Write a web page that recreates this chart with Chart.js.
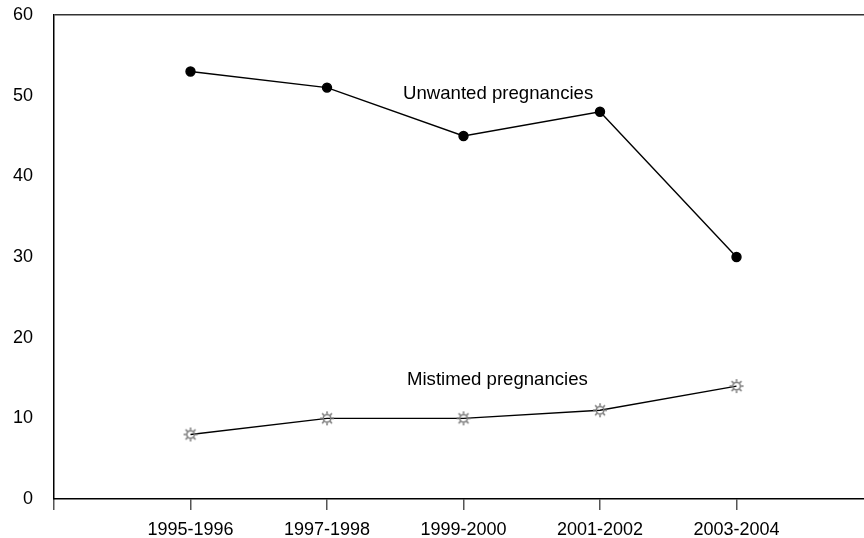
<!DOCTYPE html>
<html>
<head>
<meta charset="utf-8">
<script src="https://cdn.jsdelivr.net/npm/chart.js@4/dist/chart.umd.min.js"></script>
<style>
    html, body { margin: 0; padding: 0; background: #fff; }
    #wrap { width: 864px; height: 538px; }
</style>
</head>
<body>
<div id="wrap"><canvas id="chart" width="864" height="538"></canvas></div>
<script>
// Dados do gráfico
const categories = ['1995-1996', '1997-1998', '1999-2000', '2001-2002', '2003-2004'];
const unwanted = [53, 51, 45, 48, 30];
const mistimed = [8, 10, 10, 11, 14];
const yTicks = [0, 10, 20, 30, 40, 50, 60];

const FONT = '"Liberation Sans", Arial, sans-serif';

// Marcador em forma de sol (cinza)
function makeSunMarker() {
    const c = document.createElement('canvas');
    c.width = 16; c.height = 16;
    const g = c.getContext('2d');
    g.strokeStyle = '#7a7a7a';
    g.lineWidth = 1.5;
    g.beginPath();
    g.arc(8, 8, 3.8, 0, Math.PI * 2);
    g.stroke();
    for (let i = 0; i < 8; i++) {
        const a = i * Math.PI / 4;
        g.beginPath();
        g.moveTo(8 + Math.cos(a) * 4.4, 8 + Math.sin(a) * 4.4);
        g.lineTo(8 + Math.cos(a) * 7, 8 + Math.sin(a) * 7);
        g.stroke();
    }
    return c;
}

// Rótulos das séries dentro do gráfico
const seriesLabels = {
    id: 'seriesLabels',
    afterDatasetsDraw(chart) {
        const { ctx, scales } = chart;
        ctx.save();
        ctx.font = '18.6px ' + FONT;
        ctx.fillStyle = '#000';
        ctx.textBaseline = 'middle';
        ctx.fillText('Unwanted pregnancies', scales.x.getPixelForValue(2.557), scales.y.getPixelForValue(50.2));
        ctx.fillText('Mistimed pregnancies', scales.x.getPixelForValue(2.586), scales.y.getPixelForValue(14.75));
        ctx.restore();
    }
};

new Chart(document.getElementById('chart'), {
    type: 'line',
    data: {
        datasets: [
            {
                label: 'Unwanted pregnancies',
                data: unwanted.map((v, i) => ({ x: i + 1, y: v })),
                borderColor: '#000',
                borderWidth: 1.4,
                pointBackgroundColor: '#000',
                pointBorderColor: '#000',
                pointRadius: 4.5,
                tension: 0
            },
            {
                label: 'Mistimed pregnancies',
                data: mistimed.map((v, i) => ({ x: i + 1, y: v })),
                borderColor: '#000',
                borderWidth: 1.4,
                pointStyle: makeSunMarker(),
                pointRadius: 7,
                tension: 0
            }
        ]
    },
    options: {
        responsive: false,
        animation: false,
        layout: { autoPadding: false, padding: { top: 15, right: 0, left: 0, bottom: 0 } },
        plugins: {
            legend: { display: false },
            tooltip: { enabled: false }
        },
        scales: {
            x: {
                type: 'linear',
                min: 0,
                max: 5.934,
                afterFit: scale => {
                    scale.height = 39;
                    scale.paddingLeft = 0;
                    scale.paddingRight = 0;
                },
                border: { display: true, color: '#000', width: 1.5 },
                grid: { drawOnChartArea: false, drawTicks: true, tickLength: 11, color: '#555', lineWidth: 1.5 },
                ticks: {
                    stepSize: 1,
                    includeBounds: false,
                    autoSkip: false,
                    maxRotation: 0,
                    padding: 9,
                    color: '#000',
                    font: { family: FONT, size: 18 },
                    callback: value => categories[value - 1] || ''
                }
            },
            y: {
                min: 0,
                max: 60,
                afterFit: scale => {
                    scale.width = 54;
                    scale.paddingTop = 0;
                    scale.paddingBottom = 0;
                },
                afterBuildTicks: scale => { scale.ticks = yTicks.map(v => ({ value: v })); },
                border: { display: true, color: '#000', width: 1.5 },
                grid: {
                    drawTicks: false,
                    color: ctx => ctx.tick && ctx.tick.value === 60 ? '#333' : 'rgba(0,0,0,0)',
                    lineWidth: 1.5
                },
                ticks: {
                    padding: 21,
                    color: '#000',
                    font: { family: FONT, size: 18 }
                }
            }
        }
    },
    plugins: [seriesLabels]
});
</script>
</body>
</html>
